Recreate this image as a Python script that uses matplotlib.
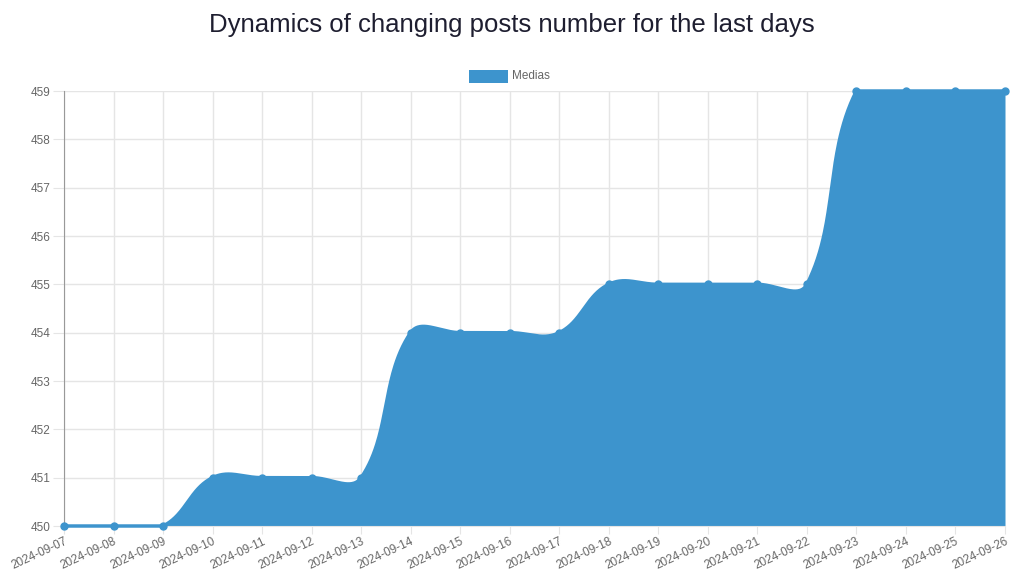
import numpy as np
import matplotlib
matplotlib.use("Agg")
import matplotlib.pyplot as plt
from matplotlib.patches import Rectangle

plt.rcParams['font.family'] = ['Liberation Sans', 'DejaVu Sans']

dates = ["2024-09-07", "2024-09-08", "2024-09-09", "2024-09-10", "2024-09-11",
         "2024-09-12", "2024-09-13", "2024-09-14", "2024-09-15", "2024-09-16",
         "2024-09-17", "2024-09-18", "2024-09-19", "2024-09-20", "2024-09-21",
         "2024-09-22", "2024-09-23", "2024-09-24", "2024-09-25", "2024-09-26"]
medias = [450, 450, 450, 451, 451, 451, 451, 454, 454, 454,
          454, 455, 455, 455, 455, 455, 459, 459, 459, 459]

title = "Dynamics of changing posts number for the last days"
legend_label = "Medias"
color = "#3d94cd"

fig = plt.figure(figsize=(10.24, 5.73), dpi=100)
ax = fig.add_axes([64/1024, 1 - 526/573, (1005-64)/1024, (526-91)/573])
ax.set_xlim(0, len(dates) - 1)
ax.set_ylim(450, 459)
fig.canvas.draw()

# Chart.js style bezier spline (tension 0.4), computed in pixel space
xs = np.arange(len(dates), dtype=float)
pts = ax.transData.transform(np.column_stack([xs, medias]))
bbox = ax.bbox
t = 0.4
n = len(pts)
cps = []
for i in range(n):
    p0 = pts[i - 1] if i > 0 else pts[i]
    p1 = pts[i]
    p2 = pts[i + 1] if i < n - 1 else pts[i]
    d01 = np.hypot(*(p1 - p0))
    d12 = np.hypot(*(p2 - p1))
    tot = d01 + d12
    s01 = d01 / tot if tot else 0
    s12 = d12 / tot if tot else 0
    fa, fb = t * s01, t * s12
    cp_prev = p1 - fa * (p2 - p0)
    cp_next = p1 + fb * (p2 - p0)
    for c in (cp_prev, cp_next):
        c[0] = min(max(c[0], bbox.x0), bbox.x1)
        c[1] = min(max(c[1], bbox.y0), bbox.y1)
    cps.append((cp_prev, cp_next))

curve = []
tt = np.linspace(0, 1, 60)[:, None]
for i in range(n - 1):
    a = pts[i]; b = cps[i][1]; c = cps[i + 1][0]; d = pts[i + 1]
    seg = ((1 - tt) ** 3) * a + 3 * ((1 - tt) ** 2) * tt * b + 3 * (1 - tt) * tt ** 2 * c + tt ** 3 * d
    curve.append(seg if i == 0 else seg[1:])
curve = np.vstack(curve)
curve_data = ax.transData.inverted().transform(curve)

ax.fill_between(curve_data[:, 0], curve_data[:, 1], 450, color=color, lw=0, zorder=2)
ax.plot(curve_data[:, 0], curve_data[:, 1], color=color, lw=2.5, zorder=3, clip_on=False)
ax.plot(xs, medias, 'o', color=color, ms=5, zorder=4, clip_on=False)

ax.set_xticks(xs)
ax.set_xticklabels(dates, rotation=25, ha="right", rotation_mode="anchor",
                   fontsize=8.5, color="#666666")
ax.set_yticks(np.arange(450, 460))
ax.set_yticklabels([str(v) for v in range(450, 460)], fontsize=8.5, color="#666666")
ax.tick_params(axis="x", length=6, color="#e5e5e5", pad=1)
ax.tick_params(axis="y", length=8, color="#e5e5e5", pad=2)
ax.grid(True, color="#e5e5e5", lw=1, zorder=0)
ax.set_axisbelow(True)
for s in ["top", "right"]:
    ax.spines[s].set_visible(False)
ax.spines["bottom"].set_color("#e5e5e5")
ax.spines["left"].set_color("#999999")

fig.text(0.5, 1 - 25/573, title, ha="center", va="center", fontsize=18.5, color="#1e1e30")

# legend
fig.patches.append(Rectangle((469/1024, 1 - 83/573), 39/1024, 13/573,
                             transform=fig.transFigure, color=color, lw=0))
fig.text(512/1024, 1 - 76/573, legend_label, ha="left", va="center", fontsize=8.5, color="#666666")

fig.savefig("out.png", dpi=100)
